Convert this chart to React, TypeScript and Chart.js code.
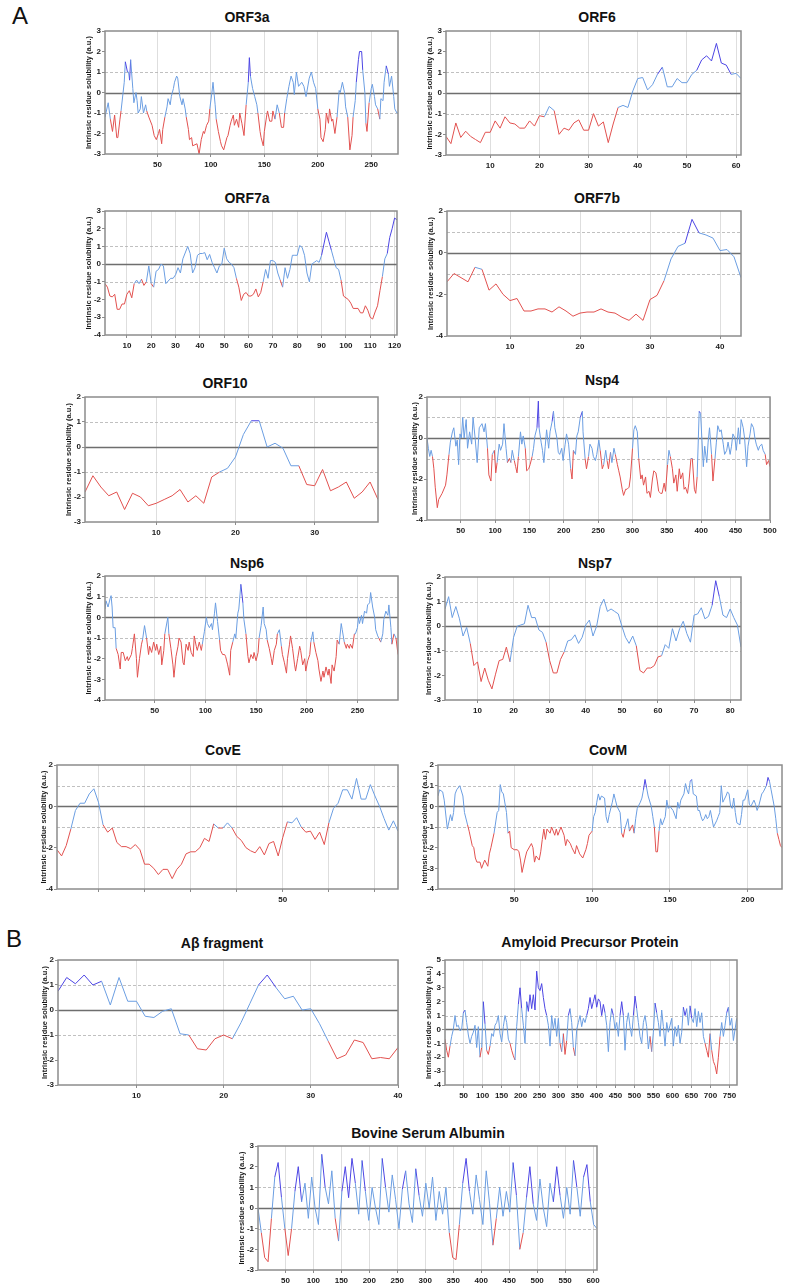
import React, { useEffect, useRef } from "react";
import { Chart, registerables } from "chart.js";
Chart.register(...registerables);

type Pt = [number, number];

// ---------------- DATA ----------------
const Y_TITLE = "Intrinsic residue solubility (a.u.)";

const orf3a: Pt[] = [[1,-1.2],[4,-0.5],[6,-1.3],[8,-1.9],[10,-1.1],[12,-2.2],[13,-2.2],[15,-1.3],[16,-0.9],[19,0.5],[20,1.5],[22,1.0],[23,1.0],[24,0.6],[25,1.6],[27,0.2],[28,-0.5],[30,0.0],[31,-0.4],[32,-1.0],[34,-0.8],[35,-0.2],[37,-1.0],[39,-0.6],[40,-0.9],[42,-1.2],[45,-1.6],[47,-2.1],[49,-2.3],[51,-2.0],[52,-1.8],[54,-2.5],[55,-1.8],[57,-1.2],[59,-0.7],[60,-0.3],[62,-0.6],[63,-0.2],[65,0.2],[66,0.5],[68,0.8],[69,0.7],[71,-0.2],[73,-0.6],[74,-0.3],[76,-0.8],[77,-1.2],[79,-1.8],[80,-2.3],[82,-2.2],[83,-2.6],[87,-2.5],[89,-3.0],[91,-2.3],[93,-1.9],[94,-2.0],[96,-1.6],[98,-1.4],[99,-0.8],[101,0.0],[102,0.5],[104,-0.6],[105,-1.3],[107,-1.9],[109,-2.4],[110,-2.6],[112,-2.8],[115,-2.2],[116,-2.1],[118,-1.6],[119,-1.4],[121,-1.1],[122,-1.6],[124,-1.3],[126,-1.7],[127,-1.0],[129,-1.5],[131,-2.1],[133,-0.6],[135,0.5],[136,1.7],[137,0.8],[139,0.2],[141,-0.2],[143,-0.6],[144,-1.0],[146,-1.9],[147,-2.2],[149,-2.6],[150,-1.9],[152,-1.2],[153,-0.9],[155,-1.4],[157,-1.4],[158,-0.9],[160,-1.3],[162,-0.6],[164,-1.0],[166,-1.7],[168,-1.7],[169,-1.0],[171,-0.3],[173,0.3],[175,0.8],[177,0.5],[178,-0.1],[180,1.0],[182,0.3],[185,0.5],[187,0.3],[189,-0.2],[192,0.7],[194,1.0],[196,0.5],[198,0.2],[200,-0.8],[202,-1.3],[203,-2.2],[205,-2.4],[207,-1.8],[208,-1.0],[210,-1.5],[211,-0.8],[213,-1.4],[214,-1.3],[216,-2.0],[218,-1.2],[220,0.1],[221,0.0],[223,0.5],[225,0.0],[226,-0.7],[228,-1.2],[230,-2.8],[232,-2.1],[233,-1.2],[235,-0.4],[236,0.5],[238,1.6],[239,2.0],[241,2.0],[242,1.1],[244,0.0],[245,-1.5],[246,-1.9],[248,-0.5],[250,0.2],[251,0.4],[253,-0.2],[254,-0.6],[256,-0.8],[258,-1.3],[259,-0.3],[261,-0.4],[262,0.5],[264,1.3],[266,0.9],[267,0.3],[269,0.8],[271,-0.2],[272,-0.8],[274,-1.0],[275,-1.0]];

const orf6: number[] = [-2.1,-2.45,-1.45,-2.15,-1.85,-2.1,-2.25,-2.4,-1.9,-1.9,-1.35,-1.7,-1.15,-1.45,-1.5,-1.7,-1.7,-1.35,-1.6,-1.1,-1.15,-0.65,-0.85,-2.0,-1.7,-1.8,-1.45,-1.3,-1.8,-1.8,-1.0,-1.6,-1.4,-2.4,-1.5,-0.7,-0.6,-0.7,0.1,0.7,0.75,0.15,0.4,0.9,1.25,0.3,0.3,0.7,0.5,0.5,0.9,1.1,1.6,1.8,1.55,2.4,1.45,1.35,0.9,0.95,0.7];

const orf7a: Pt[] = [[1,-1.1],[2,-1.3],[3,-1.8],[4,-1.85],[5,-1.7],[6,-2.55],[7,-2.55],[8,-2.25],[9,-2.25],[10,-1.7],[11,-1.5],[12,-1.9],[13,-1.1],[14,-0.9],[15,-1.1],[16,-0.85],[17,-1.2],[18,-1.0],[19,-0.1],[20,-1.1],[21,-1.3],[22,-0.4],[23,-0.3],[24,0.0],[25,-0.1],[26,-1.1],[28,-0.8],[29,-0.8],[30,-0.6],[31,-0.2],[32,-0.5],[33,0.3],[35,1.0],[36,0.6],[37,-0.5],[38,-0.2],[39,0.5],[40,0.6],[41,0.6],[42,0.65],[43,0.25],[44,0.55],[45,0.1],[46,-0.2],[47,-0.5],[48,-0.1],[49,0.0],[50,0.9],[51,0.3],[52,0.1],[53,0.0],[54,-0.2],[55,-0.8],[56,-1.3],[57,-2.05],[58,-1.7],[59,-1.6],[60,-1.8],[61,-1.8],[62,-1.7],[63,-1.4],[64,-1.85],[65,-1.6],[66,-1.0],[67,-0.3],[68,-0.8],[69,0.2],[70,0.2],[71,0.1],[72,-0.5],[73,-0.9],[74,-1.3],[75,-0.2],[76,-0.8],[77,-0.3],[78,0.5],[79,0.5],[80,0.5],[81,1.05],[82,0.95],[83,0.5],[84,-0.5],[85,-1.0],[86,0.0],[87,0.1],[88,0.2],[89,0.1],[90,0.5],[92,1.8],[93,1.3],[94,0.8],[95,0.3],[96,-0.2],[97,-0.3],[98,-0.9],[99,-1.8],[101,-2.0],[102,-2.2],[103,-2.5],[105,-2.5],[106,-2.75],[107,-2.75],[108,-2.35],[109,-2.6],[110,-3.0],[111,-3.1],[112,-2.7],[113,-2.35],[114,-1.5],[115,-0.7],[116,0.3],[117,0.6],[118,1.5],[119,2.0],[120,2.6],[121,2.5]];

const orf7b: number[] = [-1.4,-1.0,-1.2,-1.4,-0.7,-0.8,-1.8,-1.5,-2.0,-2.3,-2.2,-2.8,-2.8,-2.7,-2.7,-2.85,-2.6,-2.8,-3.05,-2.9,-2.85,-2.85,-2.7,-2.85,-2.9,-3.1,-3.25,-2.95,-3.25,-2.25,-2.05,-1.35,-0.3,0.3,0.45,1.6,0.95,0.85,0.7,0.1,0.15,-0.2,-1.2];

const orf10: number[] = [-1.8,-1.15,-1.6,-1.95,-1.8,-2.5,-1.85,-2.0,-2.35,-2.25,-2.1,-1.95,-1.7,-2.2,-1.95,-2.25,-1.2,-1.0,-0.85,-0.4,0.5,1.05,1.05,0.0,0.15,-0.05,-0.75,-0.75,-1.5,-1.55,-0.9,-1.75,-1.6,-1.4,-2.05,-1.8,-1.4,-2.1];

const nsp4: Pt[] = [[1,0.0],[3,-0.5],[5,-0.9],[7,-0.6],[9,-0.9],[11,-1.5],[13,-2.4],[16,-3.4],[18,-3.0],[23,-2.7],[28,-2.3],[30,-1.8],[33,-0.8],[35,-0.2],[38,0.3],[40,0.5],[43,-0.4],[45,-0.1],[47,-1.3],[49,0.2],[51,0.0],[53,1.0],[55,0.0],[58,0.9],[60,-0.5],[63,0.3],[66,-0.3],[68,1.0],[71,0.0],[74,-1.2],[77,0.5],[81,0.7],[84,0.3],[86,0.7],[89,-0.5],[91,-1.8],[94,-2.1],[96,-0.8],[99,-0.6],[101,-1.7],[103,-1.2],[106,-0.3],[108,-0.6],[111,-0.3],[113,0.7],[116,-0.5],[118,-1.2],[121,-1.0],[123,-1.2],[125,-0.6],[128,-1.1],[130,-1.4],[132,-1.7],[134,-0.9],[137,0.3],[139,-0.3],[141,0.1],[144,-0.5],[146,-1.6],[149,-1.5],[151,-1.3],[154,-0.9],[156,-0.5],[158,0.1],[161,0.5],[163,1.8],[164,0.5],[167,-0.2],[169,-0.6],[171,-1.2],[173,-0.4],[175,0.4],[178,-0.5],[180,0.3],[183,0.8],[185,1.3],[187,0.5],[190,0.0],[192,-0.7],[194,-0.8],[197,-0.5],[199,-1.1],[202,-0.3],[204,0.2],[207,-0.3],[210,-1.5],[212,-2.0],[214,-0.6],[217,-0.8],[219,0.1],[221,0.3],[224,1.0],[227,1.3],[228,0.3],[231,-1.0],[233,-1.5],[236,-0.9],[238,-0.3],[241,-0.5],[243,-0.9],[246,-1.1],[248,-0.8],[251,-0.1],[253,-0.6],[256,-1.5],[258,-1.3],[261,-0.6],[263,-1.1],[265,-1.5],[268,-0.7],[270,-1.2],[273,-0.5],[275,-0.8],[278,-1.3],[280,-1.6],[282,-1.9],[285,-2.5],[287,-2.8],[290,-2.5],[292,-2.5],[295,-2.4],[297,-1.9],[300,-0.5],[302,0.4],[304,0.6],[307,0.3],[309,-1.0],[312,-2.0],[314,-1.8],[316,-2.3],[319,-1.9],[321,-2.7],[324,-2.6],[326,-2.9],[329,-2.0],[331,-1.6],[334,-1.7],[336,-2.1],[338,-2.6],[341,-2.7],[343,-2.7],[346,-2.2],[348,-2.6],[351,-1.3],[353,-0.6],[355,-0.9],[358,-1.5],[360,-2.2],[363,-1.8],[365,-2.6],[368,-1.5],[370,-2.0],[373,-1.7],[375,-2.5],[377,-2.4],[380,-2.7],[382,-2.2],[385,-1.0],[387,-1.0],[390,-2.5],[392,-2.7],[394,-1.9],[397,1.3],[399,1.2],[401,-0.1],[403,-1.4],[405,-0.4],[408,-1.2],[410,-0.2],[412,0.5],[415,-0.8],[417,-2.1],[420,-1.0],[422,-0.2],[424,0.6],[427,0.3],[429,0.4],[432,-0.3],[434,-0.8],[437,-0.6],[439,-0.2],[442,-0.8],[444,-0.4],[446,0.2],[449,0.0],[451,-0.6],[454,0.5],[456,-0.3],[458,0.9],[461,0.5],[463,0.0],[466,-1.4],[468,-0.4],[471,0.2],[473,0.7],[476,0.5],[478,0.0],[480,-0.3],[483,-0.6],[485,-0.4],[488,-0.3],[490,-0.6],[493,-0.8],[495,-1.3],[498,-1.1],[500,-1.4]];

const nsp6: Pt[] = [[1,0.4],[2,0.8],[4,0.5],[6,0.9],[7,1.05],[8,0.5],[9,-0.5],[11,-0.5],[12,-1.5],[14,-1.8],[16,-2.5],[17,-1.7],[19,-1.7],[21,-2.1],[23,-1.9],[24,-2.1],[27,-1.8],[28,-1.5],[30,-0.8],[32,-2.0],[33,-2.9],[35,-2.0],[37,-1.3],[38,-1.1],[40,-0.4],[42,-1.0],[44,-1.8],[45,-1.4],[47,-1.7],[49,-1.2],[51,-1.6],[52,-1.3],[54,-1.8],[56,-1.4],[57,-2.3],[59,-1.6],[60,-0.8],[63,0.0],[64,-0.8],[66,-1.5],[68,-2.3],[69,-2.9],[71,-1.9],[73,-1.4],[74,-1.0],[76,-1.2],[78,-2.2],[79,-2.3],[81,-1.3],[83,-1.6],[84,-1.2],[86,-1.7],[88,-1.9],[89,-0.9],[91,-1.4],[92,-1.6],[94,-1.2],[96,-1.6],[97,-1.3],[99,-0.7],[101,0.0],[102,-0.3],[104,-0.5],[106,-0.3],[107,-0.6],[109,0.2],[110,0.7],[112,-0.2],[114,-1.1],[115,-1.6],[117,-1.8],[119,-1.8],[120,-1.9],[122,-2.3],[124,-2.8],[125,-1.6],[127,-1.2],[129,-0.8],[130,-1.0],[132,0.2],[133,0.4],[135,1.6],[137,0.7],[138,-0.1],[140,-0.8],[142,-1.9],[143,-2.2],[145,-1.8],[147,-2.0],[148,-1.7],[150,-2.1],[152,-1.7],[153,-1.0],[155,-0.4],[157,0.5],[158,-0.3],[160,-0.6],[161,-1.1],[163,-1.5],[165,-2.0],[166,-2.3],[168,-1.6],[170,-1.3],[171,-0.8],[173,-0.6],[175,-1.4],[176,-1.8],[178,-2.2],[180,-2.7],[181,-2.0],[183,-1.3],[184,-0.9],[186,-1.5],[188,-2.3],[189,-2.6],[191,-2.0],[193,-1.4],[194,-1.6],[196,-2.3],[198,-2.0],[199,-2.6],[201,-2.1],[203,-1.8],[204,-1.2],[206,-0.7],[207,-1.2],[209,-1.7],[211,-2.1],[212,-2.5],[214,-3.1],[216,-2.6],[217,-2.9],[219,-2.4],[221,-2.8],[222,-2.5],[224,-3.2],[225,-2.3],[227,-2.6],[229,-1.9],[230,-1.1],[232,-1.3],[234,-0.3],[235,-0.6],[237,-1.2],[239,-1.5],[240,-1.3],[242,-1.5],[243,-1.3],[245,-1.5],[247,-0.8],[248,-0.8],[250,-0.5],[251,0.0],[252,-0.3],[254,0.1],[255,-0.3],[257,0.3],[259,0.2],[260,0.6],[262,0.7],[263,1.2],[265,0.5],[267,0.0],[268,-0.6],[270,-0.9],[271,-1.0],[273,-1.2],[275,-0.8],[276,-0.1],[278,0.3],[280,0.1],[281,0.6],[283,-0.5],[284,-1.3],[286,-0.8],[288,-1.0],[290,-1.8]];

const nsp7: number[] = [0.7,1.2,0.35,0.8,0.3,-0.4,-0.05,-0.7,-1.6,-1.45,-2.25,-1.7,-2.2,-2.55,-1.95,-1.4,-1.35,-0.85,-1.45,-0.45,0.0,0.05,0.1,0.85,0.35,0.35,-0.15,-0.25,-0.65,-1.4,-1.9,-1.9,-1.35,-1.05,-0.6,-0.55,-0.35,-0.7,-0.45,0.05,0.25,-0.4,0.0,0.8,1.1,0.6,0.7,0.6,0.5,0.0,-0.45,-0.7,-0.4,-0.8,-1.8,-1.9,-1.7,-1.7,-1.6,-1.25,-1.2,-0.75,-0.9,-0.1,-0.6,-0.1,0.2,-0.3,-0.65,0.45,0.5,0.75,0.3,0.4,0.85,1.85,1.2,0.45,0.35,0.7,0.35,0.05,-0.85];

const covE: number[] = [-2.1,-2.4,-1.9,-1.1,-0.2,0.15,0.15,0.6,0.85,0.2,-0.9,-1.25,-1.05,-1.75,-1.95,-1.95,-2.05,-1.85,-2.1,-2.8,-2.8,-3.0,-3.3,-3.05,-3.05,-3.5,-3.05,-2.8,-2.3,-2.2,-2.2,-2.0,-1.55,-1.7,-0.85,-1.05,-1.05,-0.8,-1.05,-1.45,-1.65,-2.0,-2.15,-2.25,-1.95,-2.35,-1.8,-1.7,-2.4,-1.5,-0.75,-0.8,-0.55,-1.0,-1.25,-1.2,-1.6,-1.25,-1.85,-0.8,-0.1,0.15,0.8,0.8,0.35,1.35,0.35,0.35,1.05,0.5,0.0,-0.6,-1.15,-0.7,-1.2];

const covM: Pt[] = [[1,0.5],[2,0.8],[4,0.7],[5,0.3],[7,-1.1],[9,-0.4],[10,-0.7],[11,-0.3],[12,0.6],[13,0.8],[15,1.0],[17,0.5],[18,-0.3],[20,-0.9],[21,-1.2],[23,-1.9],[24,-2.0],[25,-2.5],[26,-2.7],[28,-2.7],[29,-3.0],[31,-2.6],[33,-2.9],[34,-2.3],[35,-2.0],[37,-1.3],[39,-0.3],[40,-0.2],[41,1.05],[42,0.7],[43,0.6],[45,-0.3],[46,-1.3],[47,-1.2],[48,-2.0],[50,-2.1],[52,-2.1],[53,-2.2],[54,-2.6],[55,-3.2],[57,-2.5],[58,-2.2],[61,-1.8],[62,-2.0],[63,-2.7],[64,-2.4],[66,-2.6],[67,-2.2],[68,-1.6],[69,-1.1],[70,-1.6],[71,-1.1],[73,-1.3],[74,-1.0],[76,-1.4],[77,-1.1],[78,-1.4],[80,-1.0],[82,-1.4],[83,-1.9],[84,-1.6],[86,-1.8],[87,-2.0],[89,-2.3],[90,-1.9],[92,-2.3],[94,-2.5],[96,-2.1],[97,-1.8],[98,-1.4],[100,-1.2],[101,-0.5],[102,-0.3],[103,0.2],[104,0.6],[105,0.3],[106,0.5],[108,0.4],[109,-0.5],[110,-0.8],[111,-0.4],[113,0.2],[114,0.6],[115,0.3],[116,0.0],[118,-0.3],[119,-1.3],[120,-1.5],[121,-1.1],[123,-0.6],[124,-1.2],[126,-0.9],[127,-1.3],[128,-0.6],[129,-0.1],[131,0.2],[132,0.4],[133,0.8],[134,1.3],[135,0.9],[136,0.5],[138,0.0],[139,-0.5],[140,-1.0],[141,-2.2],[142,-2.2],[143,-1.2],[144,-0.6],[145,-0.9],[147,-0.5],[148,0.3],[149,-0.1],[150,0.0],[152,-0.2],[154,-0.6],[155,0.2],[156,-0.1],[157,0.3],[159,0.6],[160,1.1],[161,0.8],[162,0.6],[163,1.2],[164,1.3],[165,0.6],[167,0.5],[168,-0.2],[169,-0.2],[170,-0.5],[171,-0.7],[172,-0.6],[173,-0.4],[174,-0.6],[175,-0.5],[176,-0.2],[177,-0.6],[178,-1.0],[180,-0.7],[181,-0.5],[182,-0.3],[183,1.0],[184,0.2],[186,0.5],[187,0.7],[188,0.6],[189,0.0],[190,-0.1],[191,0.4],[192,-0.3],[193,-0.8],[195,-0.9],[196,-0.4],[197,0.3],[198,0.3],[200,0.8],[201,0.1],[202,0.0],[204,0.3],[205,0.1],[206,-0.2],[207,0.0],[209,0.6],[210,0.7],[212,1.0],[213,1.4],[214,1.2],[215,0.8],[216,0.4],[217,0.0],[218,-0.6],[219,-1.3],[220,-1.6],[221,-1.9],[222,-2.0]];

const abeta: number[] = [0.75,1.3,1.05,1.4,1.0,1.15,0.2,1.3,0.35,0.35,-0.25,-0.3,-0.05,0.05,-0.95,-1.0,-1.55,-1.6,-1.15,-1.0,-1.15,-0.5,0.25,1.0,1.4,0.9,0.45,0.55,0.0,0.05,-0.55,-1.25,-1.95,-1.8,-1.2,-1.3,-1.95,-1.9,-1.95,-1.5];

// APP sampled every APP_STEP residues starting at residue 1
const APP_STEP = 4.39;
const app: number[] = [-0.7,-1.5,-2.0,-1.2,-0.5,0.0,1.0,0.2,0.3,-0.1,0.0,1.2,1.4,0.5,-0.4,-1.0,-0.5,-0.2,0.3,-1.3,0.2,-2.0,-1.3,2.0,0.4,-1.5,-1.8,-1.2,-0.3,-0.5,0.3,0.5,1.0,-0.3,-0.9,0.2,1.0,0.5,-0.7,-1.0,-1.5,-1.9,-2.2,0.2,1.8,3.0,1.5,0.3,-1.0,2.0,1.3,2.5,1.5,2.5,1.4,4.2,3.0,2.8,3.3,2.3,1.5,1.0,0.3,-1.2,1.0,0.0,0.8,-0.5,0.8,-1.0,-1.6,-0.3,-1.8,-0.8,1.0,1.5,0.5,-1.3,-1.9,0.0,0.5,1.0,0.2,0.8,0.5,1.0,1.5,2.3,1.5,2.0,2.5,1.6,2.2,2.0,1.0,1.8,1.2,0.3,-1.6,0.5,1.5,1.0,0.0,0.5,-0.5,1.0,2.0,1.0,-1.5,0.5,1.2,0.2,-0.5,1.0,2.4,1.5,0.5,-0.5,-1.0,0.5,1.0,0.2,-1.4,-0.5,-1.6,-0.2,1.9,1.2,0.5,-0.5,1.4,0.2,-1.2,0.5,-0.2,0.3,0.8,-1.2,0.2,-0.5,0.3,-1.0,-0.2,1.6,1.0,1.5,0.3,1.7,0.8,0.5,1.5,0.2,1.3,0.5,1.2,-0.5,-1.0,-1.5,-2.0,-0.3,-1.5,-2.3,-2.6,-3.2,-2.0,-0.5,0.5,-0.5,0.3,1.2,1.6,0.3,0.8,-0.8,0.0,0.8];

// BSA sampled every BSA_STEP residues starting at residue 1
const BSA_STEP = 6;
const bsa: number[] = [0.0,-1.2,-2.4,-2.6,-0.5,1.5,2.2,0.5,-1.0,-2.3,-1.0,0.8,2.0,0.3,1.2,-0.5,1.5,0.0,-0.8,2.6,1.0,0.2,1.8,-0.5,-1.6,0.8,2.0,0.5,2.4,1.2,-0.3,2.3,0.8,-0.6,1.0,0.0,-0.8,2.4,1.0,-0.2,1.6,0.4,-1.0,0.9,1.8,0.2,-0.7,1.9,0.6,-0.4,1.2,0.0,1.5,-0.6,0.8,-0.3,1.0,-1.2,-2.4,-2.5,-0.8,1.2,2.4,0.8,-0.3,1.6,0.4,-0.8,1.8,0.2,-1.8,-0.5,1.0,-0.4,0.8,-0.2,2.2,0.6,-2.0,-1.2,0.5,2.0,0.2,-0.6,1.4,0.0,-0.9,1.2,0.3,2.0,0.6,-0.5,1.0,-0.3,2.3,1.0,-0.4,1.5,2.1,0.3,-0.8,-1.0];

// ---------------- STYLE ----------------
const RED = "#e2514f";
const LIGHT = "#6b9ee2";
const DARK = "#4c45e4";
const FONT = "'Liberation Sans', Arial, Helvetica, sans-serif";

const seq = (vals: number[]): Pt[] => vals.map((v, i) => [i + 1, v]);
const stepped = (vals: number[], step: number): Pt[] => vals.map((v, i) => [1 + i * step, v]);

interface Spec {
  title: string;
  pts: Pt[];
  xMin: number; xMax: number;
  xTicks: number[]; xLabels?: number[];
  yMin: number; yMax: number; yStep: number;
  L: number; T: number; R: number; B: number;
  tx: number; ty: number;
  axw?: number;
}

const framePlugin = {
  id: "frame",
  beforeDatasetsDraw(chart: any) {
    const { ctx, chartArea: a, scales } = chart;
    const y = scales.y;
    ctx.save();
    ctx.strokeStyle = "#b0b0b0";
    ctx.lineWidth = 0.8;
    ctx.setLineDash([3, 2]);
    for (const v of [1, -1]) {
      const py = Math.round(y.getPixelForValue(v)) + 0.5;
      ctx.beginPath(); ctx.moveTo(a.left, py); ctx.lineTo(a.right, py); ctx.stroke();
    }
    ctx.setLineDash([]);
    ctx.strokeStyle = "#6e6e6e";
    ctx.lineWidth = 1.3;
    const p0 = Math.round(y.getPixelForValue(0)) + 0.5;
    ctx.beginPath(); ctx.moveTo(a.left, p0); ctx.lineTo(a.right, p0); ctx.stroke();
    ctx.restore();
  },
  afterDatasetsDraw(chart: any) {
    const { ctx, chartArea: a } = chart;
    ctx.save();
    ctx.strokeStyle = "#8c8c8c";
    ctx.lineWidth = 1.5;
    ctx.strokeRect(a.left, a.top, a.right - a.left, a.bottom - a.top);
    ctx.restore();
  },
};

function segColor(c: any) {
  const m = (c.p0.parsed.y + c.p1.parsed.y) / 2;
  if (m < -1) return RED;
  if (m > 1) return DARK;
  return LIGHT;
}

function Panel({ s }: { s: Spec }) {
  const ref = useRef<HTMLCanvasElement>(null);
  const AXW = s.axw ?? 21;
  const PADT = 7, PADR = 14, AXH = 20;
  const w = s.R - s.L, h = s.B - s.T;
  const cw = w + AXW + PADR, ch = h + PADT + AXH;
  useEffect(() => {
    const labels = s.xLabels ?? s.xTicks;
    const chart = new Chart(ref.current as HTMLCanvasElement, {
      type: "line",
      data: {
        datasets: [{
          data: s.pts.map(([x, y]) => ({ x, y })),
          borderColor: LIGHT,
          borderWidth: 1,
          pointRadius: 0,
          tension: 0,
          segment: { borderColor: segColor },
        } as any],
      },
      options: {
        responsive: false,
        animation: false,
        events: [],
        layout: { padding: { top: PADT, right: PADR, left: 0, bottom: 0 } },
        plugins: { legend: { display: false }, tooltip: { enabled: false }, title: { display: false } },
        scales: {
          x: {
            type: "linear",
            min: s.xMin, max: s.xMax,
            afterFit: (sc: any) => { sc.height = AXH; },
            afterBuildTicks: (sc: any) => { sc.ticks = s.xTicks.map((v) => ({ value: v })); },
            ticks: {
              autoSkip: false, maxRotation: 0, padding: 3, color: "#1a1a1a",
              font: { family: FONT, size: 8, weight: "bold" },
              callback: (v: any) => (labels.includes(Number(v)) ? String(v) : ""),
            },
            grid: { color: "#dedede", lineWidth: 1, drawTicks: true, tickLength: 3, tickColor: "#8c8c8c" },
            border: { display: false },
          },
          y: {
            min: s.yMin, max: s.yMax,
            afterFit: (sc: any) => { sc.width = AXW; },
            ticks: { stepSize: s.yStep, padding: 1, color: "#1a1a1a", font: { family: FONT, size: 8, weight: "bold" } },
            grid: { drawOnChartArea: false, drawTicks: true, tickLength: 3, tickColor: "#8c8c8c" },
            border: { display: false },
            title: {
              display: true, text: Y_TITLE, color: "#1a1a1a",
              font: { family: FONT, size: 7.5, weight: "bold" },
              padding: { top: 0, bottom: 0 },
            },
          },
        },
      } as any,
      plugins: [framePlugin],
    });
    return () => chart.destroy();
  }, []);
  return (
    <>
      <div style={{ position: "absolute", left: s.tx - 150, width: 300, top: s.ty - 9, textAlign: "center", fontFamily: FONT, fontWeight: "bold", fontSize: 14, lineHeight: "18px", color: "#111" }}>
        {s.title}
      </div>
      <canvas ref={ref} width={cw} height={ch} style={{ position: "absolute", left: s.L - AXW, top: s.T - PADT, width: cw, height: ch }} />
    </>
  );
}

export default function App() {
  const specs: Spec[] = [
    { title: "ORF3a", pts: orf3a, xMin: 1, xMax: 275, xTicks: [50, 100, 150, 200, 250], yMin: -3, yMax: 3, yStep: 1, L: 105, T: 31, R: 398, B: 154, tx: 247, ty: 17 },
    { title: "ORF6", pts: seq(orf6), xMin: 1, xMax: 61, xTicks: [10, 20, 30, 40, 50, 60], yMin: -3, yMax: 3, yStep: 1, L: 446, T: 31, R: 741, B: 155, tx: 597, ty: 17 },
    { title: "ORF7a", pts: orf7a, xMin: 1, xMax: 121, xTicks: [10, 20, 30, 40, 50, 60, 70, 80, 90, 100, 110, 120], yMin: -4, yMax: 3, yStep: 1, L: 105, T: 211, R: 397, B: 335, tx: 247, ty: 198 },
    { title: "ORF7b", pts: seq(orf7b), xMin: 1, xMax: 43, xTicks: [10, 20, 30, 40], yMin: -4, yMax: 2, yStep: 2, L: 447, T: 211, R: 741, B: 336, tx: 597, ty: 198 },
    { title: "ORF10", pts: seq(orf10), xMin: 1, xMax: 38, xTicks: [10, 20, 30], yMin: -3, yMax: 2, yStep: 1, L: 85, T: 397, R: 378, B: 522, tx: 225, ty: 383 },
    { title: "Nsp4", pts: nsp4, xMin: 1, xMax: 500, xTicks: [50, 100, 150, 200, 250, 300, 350, 400, 450, 500], yMin: -4, yMax: 2, yStep: 2, L: 427, T: 397, R: 770, B: 520, tx: 602, ty: 380, axw: 17 },
    { title: "Nsp6", pts: nsp6, xMin: 1, xMax: 290, xTicks: [50, 100, 150, 200, 250], yMin: -4, yMax: 2, yStep: 1, L: 105, T: 576, R: 398, B: 700, tx: 247, ty: 563 },
    { title: "Nsp7", pts: seq(nsp7), xMin: 1, xMax: 83, xTicks: [10, 20, 30, 40, 50, 60, 70, 80], yMin: -3, yMax: 2, yStep: 1, L: 445, T: 577, R: 741, B: 700, tx: 595, ty: 563 },
    { title: "CovE", pts: seq(covE), xMin: 1, xMax: 75, xTicks: [10, 20, 30, 40, 50, 60, 70], xLabels: [50], yMin: -4, yMax: 2, yStep: 2, L: 57, T: 765, R: 398, B: 889, tx: 223, ty: 750, axw: 18 },
    { title: "CovM", pts: covM, xMin: 1, xMax: 222, xTicks: [50, 100, 150, 200], yMin: -4, yMax: 2, yStep: 1, L: 438, T: 765, R: 782, B: 889, tx: 608, ty: 750, axw: 18 },
    { title: "A\u03b2 fragment", pts: seq(abeta), xMin: 1, xMax: 40, xTicks: [10, 20, 30, 40], yMin: -3, yMax: 2, yStep: 1, L: 58, T: 960, R: 398, B: 1085, tx: 222, ty: 943, axw: 18 },
    { title: "Amyloid Precursor Protein", pts: stepped(app, APP_STEP), xMin: 1, xMax: 770, xTicks: [50, 100, 150, 200, 250, 300, 350, 400, 450, 500, 550, 600, 650, 700, 750], yMin: -4, yMax: 5, yStep: 1, L: 445, T: 960, R: 737, B: 1085, tx: 590, ty: 942 },
    { title: "Bovine Serum Albumin", pts: stepped(bsa, BSA_STEP), xMin: 1, xMax: 607, xTicks: [50, 100, 150, 200, 250, 300, 350, 400, 450, 500, 550, 600], yMin: -3, yMax: 3, yStep: 1, L: 258, T: 1146, R: 597, B: 1270, tx: 428, ty: 1133 },
  ];
  return (
    <div style={{ position: "absolute", left: 0, top: 0, width: 787, height: 1284, background: "#fff", overflow: "hidden" }}>
      <div style={{ position: "absolute", left: 12, top: 2, fontFamily: FONT, fontSize: 24, lineHeight: "28px", color: "#111" }}>A</div>
      <div style={{ position: "absolute", left: 6, top: 925, fontFamily: FONT, fontSize: 24, lineHeight: "28px", color: "#111" }}>B</div>
      {specs.map((s) => <Panel key={s.title} s={s} />)}
    </div>
  );
}
